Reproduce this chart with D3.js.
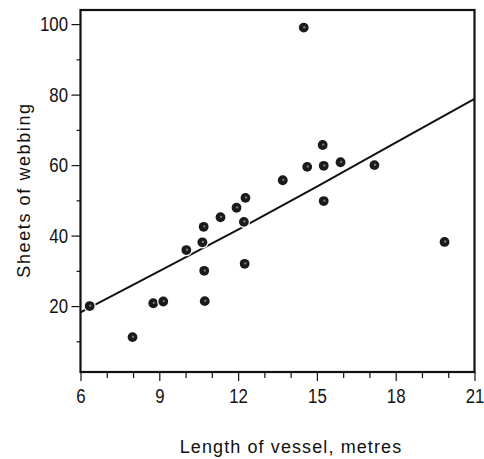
<!DOCTYPE html>
<html>
<head>
<meta charset="utf-8">
<script src="https://cdn.jsdelivr.net/npm/d3@7"></script>
<style>
  body { margin: 0; background: #fff; }
  svg text { font-family: "Liberation Sans", Arial, sans-serif; fill: #111; }
</style>
</head>
<body>
<div id="main"></div>
<script>
// vessel length (m) and sheets of webbing
const lengths = [6.35, 7.98, 8.77, 9.15, 10.03, 10.64, 10.71, 10.73, 12.25, 19.86,
                 14.5, 15.22, 14.63, 15.26, 15.9, 17.19, 13.7, 15.26, 12.28, 11.94,
                 11.33, 10.69, 12.22];
const sheets  = [20.0, 11.2, 20.8, 21.3, 35.9, 38.1, 30.0, 21.4, 32.0, 38.2,
                 99.0, 65.7, 59.5, 59.8, 60.8, 60.0, 55.7, 49.8, 50.7, 47.9,
                 45.2, 42.5, 43.9];

// fitted line
const fitX = [6, 9, 12, 15, 18, 21];
const fitY = [18.2, 29.9, 41.7, 53.9, 66.4, 78.8];

const xMajor = [6, 9, 12, 15, 18, 21];
const xMinor = [7, 8, 10, 11, 13, 14, 16, 17, 19, 20];
const yMajor = [20, 40, 60, 80, 100];
const yMinor = [10, 30, 50, 70, 90];

const W = 484, H = 459;
const mLeft = 80.5, mRight = 474.5, mTop = 10, mBottom = 372;
const squeeze = 0.8; // the printed digits are tall and narrow

const svg = d3.select('#main').append('svg')
  .attr('width', W)
  .attr('height', H);

const x = d3.scaleLinear().domain([6, 21]).range([mLeft, mRight]);
const y = d3.scaleLinear().domain([1.3, 104]).range([mBottom, mTop]);

// fitted line first, points on top with a white rim so the line looks broken
const line = d3.line().x(d => x(d[0])).y(d => y(d[1]));
svg.append('path')
  .datum(fitX.map((v, i) => [v, fitY[i]]))
  .attr('d', line)
  .attr('fill', 'none')
  .attr('stroke', '#111')
  .attr('stroke-width', 2);

// axes
const xAxisMajor = d3.axisBottom(x).tickValues(xMajor).tickSize(9).tickPadding(7).tickFormat(d3.format('d'));
const xAxisMinor = d3.axisBottom(x).tickValues(xMinor).tickSize(6).tickFormat('');
const yAxisMajor = d3.axisLeft(y).tickValues(yMajor).tickSize(9).tickPadding(3).tickFormat(d3.format('d'));
const yAxisMinor = d3.axisLeft(y).tickValues(yMinor).tickSize(4).tickFormat('');

function styleAxis(g) {
  g.select('.domain').remove();
  g.selectAll('line').attr('stroke', '#111').attr('stroke-width', 1.2);
  g.selectAll('text').attr('font-size', 21).attr('fill', '#111');
}

svg.append('g').attr('transform', `translate(0,${mBottom})`).call(xAxisMajor).call(styleAxis)
  .selectAll('text').attr('transform', `scale(${squeeze},1)`);
svg.append('g').attr('transform', `translate(0,${mBottom})`).call(xAxisMinor).call(styleAxis);
svg.append('g').attr('transform', `translate(${mLeft},0)`).call(yAxisMajor).call(styleAxis)
  .selectAll('text')
    .attr('x', -12.5 / squeeze)
    .attr('transform', `scale(${squeeze},1)`);
svg.append('g').attr('transform', `translate(${mLeft},0)`).call(yAxisMinor).call(styleAxis);

// frame
svg.append('rect')
  .attr('x', mLeft)
  .attr('y', mTop)
  .attr('width', mRight - mLeft)
  .attr('height', mBottom - mTop)
  .attr('fill', 'none')
  .attr('stroke', '#111')
  .attr('stroke-width', 2.2);

// points
const pts = lengths.map((v, i) => ({x: v, y: sheets[i]}));
svg.selectAll('circle.pt')
  .data(pts)
  .join('circle')
    .attr('class', 'pt')
    .attr('cx', d => x(d.x))
    .attr('cy', d => y(d.y))
    .attr('r', 4.9)
    .attr('fill', '#1a1a1a')
    .attr('stroke', '#fff')
    .attr('stroke-width', 2.5)
    .attr('paint-order', 'stroke');

svg.selectAll('circle.speck')
  .data(pts)
  .join('circle')
    .attr('class', 'speck')
    .attr('cx', d => x(d.x) + 0.6)
    .attr('cy', d => y(d.y) - 0.4)
    .attr('r', 1.2)
    .attr('fill', '#777');

// axis labels
svg.append('text')
  .attr('x', 291)
  .attr('y', 453)
  .attr('text-anchor', 'middle')
  .attr('font-size', 18)
  .attr('letter-spacing', 1.1)
  .text('Length of vessel, metres');

svg.append('text')
  .attr('transform', 'translate(30,190) rotate(-90)')
  .attr('text-anchor', 'middle')
  .attr('font-size', 18)
  .attr('letter-spacing', 1.6)
  .text('Sheets of webbing');
</script>
</body>
</html>
